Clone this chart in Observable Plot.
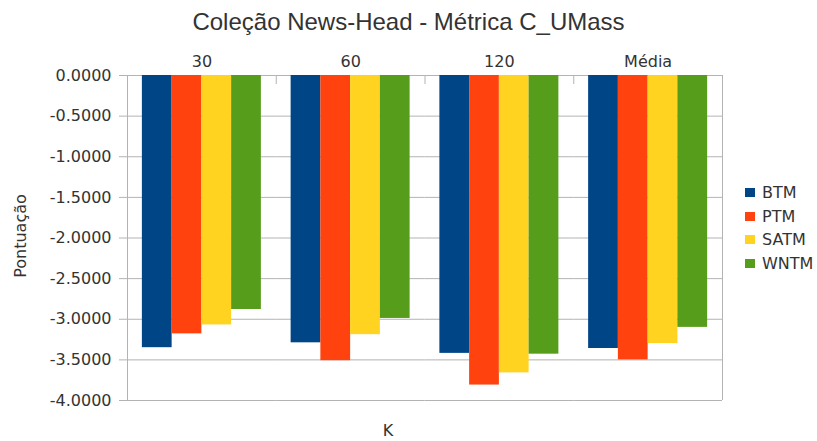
<!DOCTYPE html>
<html>
<head>
<meta charset="utf-8">
<script src="https://cdn.jsdelivr.net/npm/d3@7"></script>
<script src="https://cdn.jsdelivr.net/npm/@observablehq/plot@0.6"></script>
<style>
  html, body { margin: 0; padding: 0; background: #fff; }
  #chart { position: relative; width: 817px; height: 441px; overflow: hidden; }
  #chart svg { position: absolute; left: 0; top: 0; }
  .title { position: absolute; left: 0; width: 817px; top: 10px; text-align: center;
           font: 24px "Liberation Sans", sans-serif; line-height: 24px; color: #333; }
  .ylabel { position: absolute; left: 20px; top: 236px; transform: translate(-50%, -50%) rotate(-90deg);
            font: 16px "DejaVu Sans", sans-serif; color: #333; white-space: nowrap; }
  .xlabel { position: absolute; left: 388px; top: 423px; transform: translateX(-50%);
            font: 16px "DejaVu Sans", sans-serif; line-height: 16px; color: #333; }
  .legend { position: absolute; left: 745px; top: 181px; font: 16px "DejaVu Sans", sans-serif; color: #333; }
  .legend div { height: 23.5px; line-height: 23.5px; white-space: nowrap; }
  .legend span.sw { display: inline-block; width: 10px; height: 9px; margin-right: 7px; vertical-align: middle; position: relative; top: -1px; }
</style>
</head>
<body>
<div id="chart">
  <div class="title">Coleção News-Head - Métrica C_UMass</div>
  <div class="ylabel">Pontuação</div>
  <div class="xlabel">K</div>
  <div class="legend" id="legend"></div>
</div>
<script>
// Number of topics K (plus the average column)
const groups = ["30", "60", "120", "Média"];
// Topic models compared
const models = ["BTM", "PTM", "SATM", "WNTM"];
const colors = ["#004586", "#ff420e", "#ffd320", "#579d1c"];

// C_UMass coherence per model, one value per group (30, 60, 120, Média)
const btm  = [-3.35, -3.29, -3.42, -3.36];
const ptm  = [-3.18, -3.51, -3.81, -3.50];
const satm = [-3.07, -3.19, -3.66, -3.30];
const wntm = [-2.88, -2.99, -3.43, -3.10];

// Value axis ticks
const yTicks = [0, -0.5, -1, -1.5, -2, -2.5, -3, -3.5, -4];

const series = {BTM: btm, PTM: ptm, SATM: satm, WNTM: wntm};
const rows = groups.flatMap((k, i) => models.map(m => ({K: k, model: m, value: series[m][i]})));

const W = 817, H = 441, mt = 75, mb = 41, ml = 127, mr = 95;
const plotW = W - ml - mr, plotH = H - mt - mb;
// each group is split into 5 slots: 4 bars plus half a slot of air on either side
const slot = plotW / groups.length / (models.length + 1);
const grid = "#b3b3b3";

const first = rows.filter(d => d.model === models[0]);
const last = rows.filter(d => d.model === models[models.length - 1]);

const chart = Plot.plot({
  width: W,
  height: H,
  marginTop: mt,
  marginBottom: mb,
  marginLeft: ml,
  marginRight: mr,
  style: {fontFamily: "DejaVu Sans", fontSize: "16px", color: "#333", background: "transparent"},
  fx: {domain: groups, padding: 0, round: false, label: null, axis: null},
  x: {domain: models, paddingInner: 0, paddingOuter: 0.5, round: false, axis: null},
  y: {domain: [-4, 0], label: null, axis: null},
  color: {domain: models, range: colors},
  marks: [
    // horizontal grid, continuous across the touching facets
    Plot.ruleY(yTicks, {stroke: grid}),
    Plot.barY(rows, {fx: "K", x: "model", y: "value", fill: "model"}),
    // short separators between the groups, hanging from the zero line
    Plot.ruleX(first, {fx: "K", x: "model", stroke: grid, dx: -slot, insetBottom: plotH - 9}),
    // left and right edges of the plot area
    Plot.ruleX(first.filter(d => d.K === groups[0]), {fx: "K", x: "model", stroke: grid, dx: -slot}),
    Plot.ruleX(last.filter(d => d.K === groups[groups.length - 1]), {fx: "K", x: "model", stroke: grid, dx: slot}),
    Plot.axisY({
      ticks: yTicks, tickFormat: d => d.toFixed(4), tickSize: 8, tickPadding: 8,
      stroke: grid, fill: "#333", label: null
    }),
    Plot.axisFx({anchor: "top", tickSize: 0, tickPadding: 9, label: null, fill: "#333"})
  ]
});
document.getElementById("chart").prepend(chart);

// Legend
const legend = document.getElementById("legend");
models.forEach((m, i) => {
  const row = document.createElement("div");
  const sw = document.createElement("span");
  sw.className = "sw";
  sw.style.background = colors[i];
  row.appendChild(sw);
  row.appendChild(document.createTextNode(m));
  legend.appendChild(row);
});
</script>
</body>
</html>
